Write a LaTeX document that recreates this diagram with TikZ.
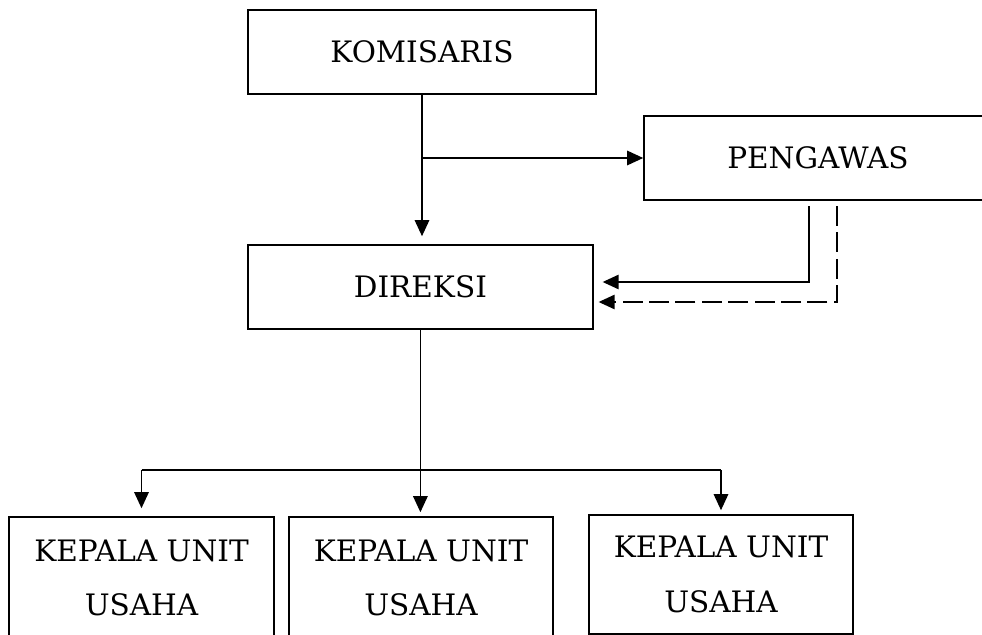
\documentclass[tikz,border=0pt]{standalone}
\usepackage{fontspec}
\setmainfont{DejaVu Serif}
\usetikzlibrary{arrows.meta}

\tikzset{
  unitbox/.style={rectangle, draw, line width=1.1pt, inner sep=0pt, align=center,
    font=\fontsize{21}{39}\selectfont},
  arr/.style={line width=1.1pt, -{Triangle[length=0.4cm, width=0.36cm]}},
  line/.style={line width=1.1pt}
}

\begin{document}
\begin{tikzpicture}
\useasboundingbox (0,0) rectangle (24.55,-15.875);

% Upper level
\node[unitbox, minimum width=8.7cm, minimum height=2.1cm] (kom) at (10.55,-1.3) {KOMISARIS};
\node[unitbox, minimum width=8.7cm, minimum height=2.1cm] (peng) at (20.45,-3.95) {PENGAWAS};
\node[unitbox, minimum width=8.625cm, minimum height=2.1cm] (dir) at (10.51,-7.175) {DIREKSI};

% Unit heads
\node[unitbox, minimum width=6.625cm, minimum height=3.05cm] (unitA) at (3.5375,-14.45) {KEPALA UNIT\\USAHA};
\node[unitbox, minimum width=6.6cm, minimum height=3.05cm] (unitB) at (10.525,-14.45) {KEPALA UNIT\\USAHA};
\node[unitbox, minimum width=6.6cm, minimum height=2.975cm] (unitC) at (18.025,-14.3625) {KEPALA UNIT\\USAHA};

% Komisaris lines
\draw[arr, shorten >=0.2cm] (kom.south) -- (kom.south |- dir.north);
\coordinate (branch) at (kom.south |- peng.west);
\draw[arr] (branch) -- (peng.west);

% Pengawas back to Direksi
\coordinate (solidTop) at (20.225,-5.15);
\coordinate (dashTop) at (20.925,-5.15);
\draw[arr, shorten >=0.225cm] (solidTop) |- ([yshift=0.125cm]dir.east);
\draw[arr, shorten >=0.125cm, dash pattern=on 0.5cm off 0.16cm] (dashTop) |- ([yshift=-0.375cm]dir.east);

% Direksi to units
\coordinate (bar) at (0,-11.75);
\draw[arr, shorten >=0.1cm] (dir.south) -- (dir.south |- unitB.north);
\draw[line] (unitA.north |- bar) -- (unitC.north |- bar);
\draw[arr, shorten >=0.2cm] (unitA.north |- bar) -- (unitA.north);
\draw[arr, shorten >=0.1cm] (unitC.north |- bar) -- (unitC.north);

\end{tikzpicture}
\end{document}
